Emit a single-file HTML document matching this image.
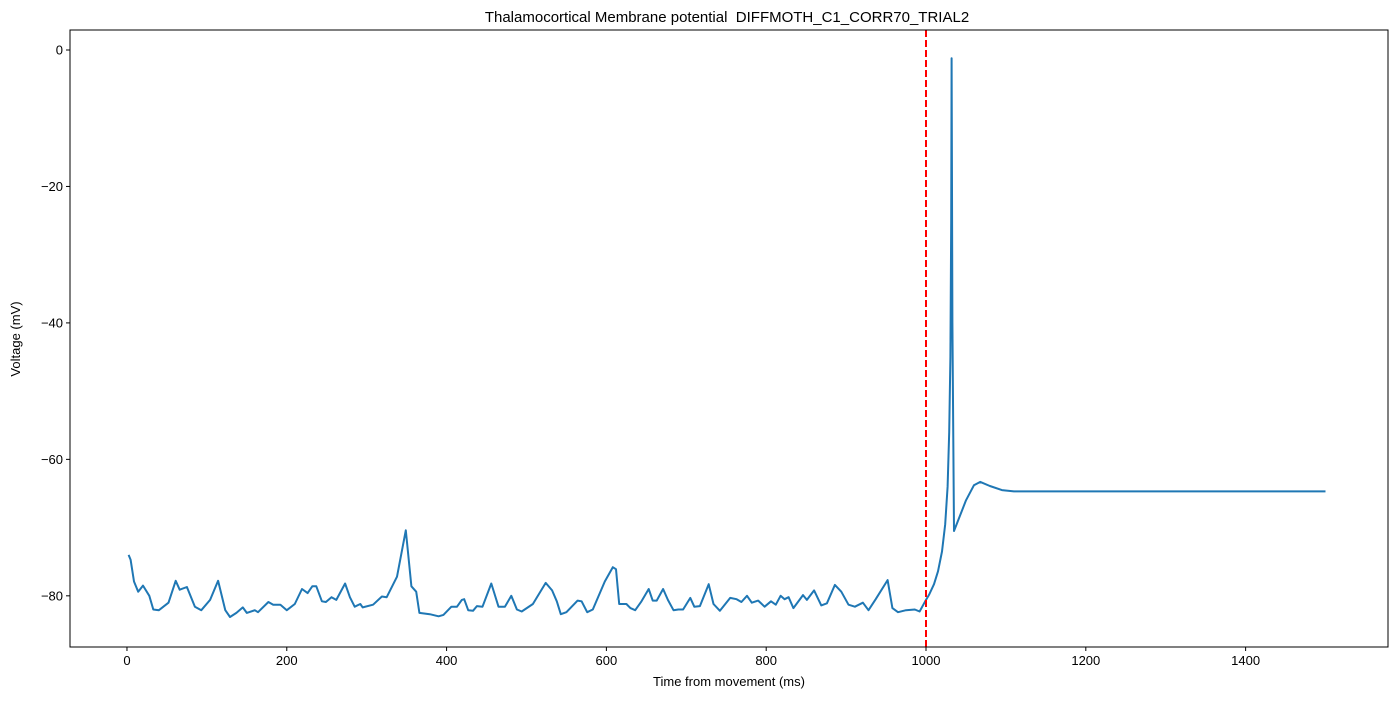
<!DOCTYPE html>
<html><head><meta charset="utf-8"><style>
body{margin:0;background:#fff;font-family:"Liberation Sans","DejaVu Sans",sans-serif}
svg text{font-family:"Liberation Sans","DejaVu Sans",sans-serif;font-size:13px;fill:#000}
</style></head><body>
<svg id="chart" width="1396" height="699" xmlns="http://www.w3.org/2000/svg">
<text x="727" y="22" text-anchor="middle" style="font-size:15px;white-space:pre" xml:space="preserve">Thalamocortical Membrane potential  DIFFMOTH_C1_CORR70_TRIAL2</text>
<text x="729" y="686" text-anchor="middle">Time from movement (ms)</text>
<text transform="translate(20,339) rotate(-90)" text-anchor="middle">Voltage (mV)</text>
<g id="ticks"></g>
<g id="plot"></g>
<rect x="70" y="30" width="1318" height="617" fill="none" stroke="#000" stroke-width="1"/>
</svg>
<script>
const xTicks=[0,200,400,600,800,1000,1200,1400];
const yTicks=[0,-20,-40,-60,-80];
const eventTime=[1000];
const times=[2,4.6,8.8,14,20,28,33,40,52,61,66,75,85,93,104,114,123,129,137,145,150,160,164,177,183,192,200,210,219,226,232,237,244,249,256,262,273,279,285,292,295,308,319,325,338,349,356,362,366,379,390,396,406,413,419,422,427,433,438,445,456,465,473,481,488,494,508,524,532,538,543,550,564,569,576,583,598,608,612,616,625,630,636,644,653,658,663,671,677,684,690,696,705,710,717,728,734,742,755,763,769,776,782,790,798,806,812,818,823,828,834,846,851,860,869,876,886,894,903,911,921,928,937,952,958,965,975,986,992,999,1004,1010,1015,1020,1024,1027,1029,1030.5,1031.5,1032,1033,1035,1040,1050,1060,1068,1080,1095,1110,1130,1200,1300,1400,1500];
const volts=[-74.0,-74.7,-77.9,-79.4,-78.5,-80,-82,-82.1,-81,-77.8,-79.1,-78.7,-81.6,-82.1,-80.6,-77.8,-82.1,-83.1,-82.5,-81.7,-82.5,-82.1,-82.4,-80.9,-81.3,-81.3,-82.1,-81.2,-79,-79.6,-78.6,-78.6,-80.8,-80.9,-80.2,-80.6,-78.2,-80.2,-81.6,-81.2,-81.7,-81.3,-80.1,-80.2,-77.2,-70.4,-78.6,-79.4,-82.5,-82.7,-83.0,-82.8,-81.6,-81.6,-80.6,-80.5,-82.1,-82.2,-81.5,-81.6,-78.2,-81.6,-81.6,-80,-82,-82.3,-81.2,-78.1,-79.2,-80.8,-82.7,-82.4,-80.7,-80.8,-82.4,-82,-77.9,-75.8,-76.1,-81.2,-81.2,-81.8,-82.1,-80.8,-79,-80.7,-80.7,-79,-80.6,-82.1,-82,-82,-80.3,-81.6,-81.5,-78.3,-81.2,-82.2,-80.3,-80.5,-80.9,-80,-81,-80.7,-81.6,-80.8,-81.3,-80,-80.5,-80.2,-81.8,-79.9,-80.6,-79.2,-81.4,-81.1,-78.4,-79.4,-81.3,-81.6,-81,-82.1,-80.5,-77.7,-81.8,-82.4,-82.1,-82,-82.3,-80.8,-79.8,-78.3,-76.4,-73.5,-69.5,-64,-56,-45,-25,-1.2,-40,-70.5,-69,-66,-63.8,-63.3,-63.9,-64.5,-64.7,-64.7,-64.7,-64.7,-64.7,-64.7];
const L=70,R=1388,T=30,B=647;
const xMin=-71.3,xMax=1578.2,yMin=-87.5,yMax=2.93;
const X=v=>L+(v-xMin)/(xMax-xMin)*(R-L);
const Y=v=>B-(v-yMin)/(yMax-yMin)*(B-T);
const NS="http://www.w3.org/2000/svg";
const tg=document.getElementById('ticks'),pg=document.getElementById('plot');
function mk(tag,a,p){const e=document.createElementNS(NS,tag);for(const k in a)e.setAttribute(k,a[k]);p.appendChild(e);return e;}
xTicks.forEach(t=>{
 const l=mk('line',{x1:X(t),x2:X(t),y1:B,y2:B+4,stroke:'#000'},tg);
 
 
 const s=mk('text',{x:X(t),y:B+18,'text-anchor':'middle'},tg);s.textContent=t;
 
 
});
yTicks.forEach(t=>{
 const l=mk('line',{x1:L-4,x2:L,y1:Y(t),y2:Y(t),stroke:'#000'},tg);
 
 
 const s=mk('text',{x:L-7,y:Y(t)+4.5,'text-anchor':'end'},tg);s.textContent=t===0?'0':'\u2212'+Math.abs(t);
 
 
});
const d=times.map((t,i)=>(i?'L':'M')+X(t).toFixed(1)+' '+Y(volts[i]).toFixed(1)).join(' ');
const p=mk('path',{d:d,fill:'none',stroke:'#1f77b4','stroke-width':2,'stroke-linejoin':'round'},pg);


eventTime.forEach(t=>{
 const v=mk('line',{x1:X(t),x2:X(t),y1:T,y2:B,stroke:'#ff0000','stroke-width':2,'stroke-dasharray':'7,3'},pg);
 
 
});
</script>
</body></html>
